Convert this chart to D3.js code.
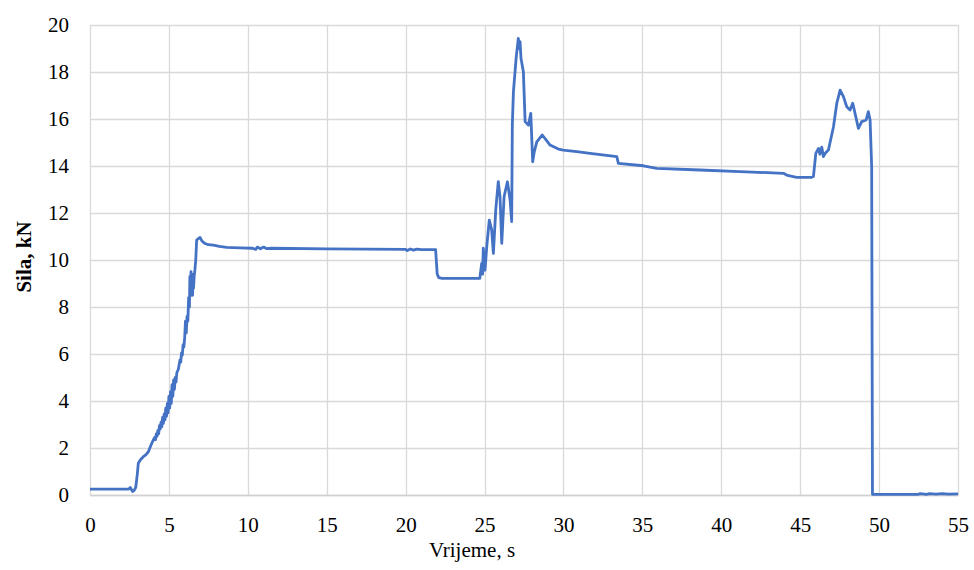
<!DOCTYPE html>
<html>
<head>
<meta charset="utf-8">
<script src="https://cdn.jsdelivr.net/npm/d3@7"></script>
<style>
  html, body { margin: 0; padding: 0; background: #fff; }
  svg { display: block; }
  text { font-family: "Liberation Serif", "Times New Roman", Times, "DejaVu Serif", serif; fill: #000; }
</style>
</head>
<body>
<svg id="chart" width="974" height="570"></svg>
<script>
// Time (s)
const time = [
  0, 2.45, 2.55, 2.7, 2.8, 2.9, 3.0, 3.06, 3.2, 3.38, 3.55, 3.7, 3.85, 4.01, 4.1, 4.15, 4.2, 4.25, 4.3, 4.35,
  4.4, 4.45, 4.5, 4.55, 4.6, 4.65, 4.7, 4.75, 4.8, 4.85, 4.9, 4.95, 5.0, 5.05, 5.1, 5.15, 5.2, 5.25, 5.3, 5.35,
  5.4, 5.45, 5.5, 5.6, 5.7, 5.75, 5.8, 5.85, 5.9, 5.95, 6.0, 6.05, 6.1, 6.15, 6.2, 6.25, 6.3, 6.33, 6.36, 6.4,
  6.43, 6.46, 6.5, 6.53, 6.56, 6.6, 6.65, 6.7, 6.76, 6.85, 6.97, 7.1, 7.29, 7.5, 7.81, 8.2, 8.66, 9.5, 10.3, 10.5,
  10.6, 10.8, 11.0, 11.2, 11.5, 15.0, 20.0, 20.1, 20.3, 20.5, 20.7, 21.0, 21.9, 22.0, 22.1, 22.3, 24.7, 24.82, 24.88, 24.92,
  25.03, 25.14, 25.3, 25.45, 25.56, 25.71, 25.87, 25.98, 26.09, 26.24, 26.45, 26.62, 26.72, 26.76, 26.83, 27.0, 27.14, 27.2, 27.25, 27.31,
  27.46, 27.57, 27.78, 27.93, 28.05, 28.15, 28.31, 28.66, 29.15, 29.68, 29.99, 30.84, 31.69, 33.38, 33.48, 35.06, 35.91, 38.66, 41.19, 43.94,
  44.2, 44.78, 45.73, 45.84, 45.99, 46.16, 46.25, 46.37, 46.47, 46.6, 46.79, 47.11, 47.32, 47.53, 47.74, 47.95, 48.16, 48.33, 48.69, 48.9,
  49.18, 49.32, 49.43, 49.53, 49.58, 52.5, 52.6, 53.0, 53.2, 53.6, 54.0, 54.4, 55.0
];
// Force (kN)
const force = [
  0.25, 0.25, 0.32, 0.15, 0.2, 0.33, 0.9, 1.35, 1.5, 1.63, 1.72, 1.84, 2.1, 2.34, 2.45, 2.35, 2.6, 2.5, 2.75, 2.6,
  2.95, 2.8, 3.1, 2.9, 3.3, 3.05, 3.45, 3.2, 3.7, 3.35, 3.9, 3.5, 4.2, 3.7, 4.4, 3.9, 4.7, 4.2, 4.9, 4.5,
  5.0, 4.8, 5.2, 5.35, 5.75, 5.65, 6.05, 5.95, 6.4, 6.3, 6.7, 7.4, 6.9, 7.6, 7.4, 8.4, 8.0, 9.3, 8.6, 9.5,
  8.5, 9.4, 8.5, 9.3, 8.8, 9.3, 9.6, 10.0, 10.85, 10.9, 10.96, 10.8, 10.7, 10.65, 10.63, 10.58, 10.54, 10.52, 10.5, 10.45,
  10.55, 10.48, 10.55, 10.48, 10.5, 10.47, 10.45, 10.4, 10.47, 10.42, 10.46, 10.44, 10.44, 9.4, 9.25, 9.22, 9.22, 9.86, 9.4, 10.5,
  9.57, 10.57, 11.7, 11.28, 10.28, 12.13, 13.33, 12.7, 10.71, 12.7, 13.33, 12.55, 11.63, 15.74, 17.16, 18.58, 19.43, 19.0, 19.29, 18.58,
  18.01, 15.89, 15.74, 16.24, 14.18, 14.6, 15.03, 15.32, 14.89, 14.72, 14.68, 14.61, 14.54, 14.4, 14.11, 14.01, 13.9, 13.83, 13.76, 13.69,
  13.6, 13.52, 13.52, 13.55, 14.54, 14.75, 14.5, 14.8, 14.4, 14.55, 14.68, 15.67, 16.67, 17.23, 16.95, 16.52, 16.38, 16.67, 15.6, 15.89,
  15.96, 16.31, 15.96, 13.97, 0.03, 0.03, 0.06, 0.03, 0.06, 0.04, 0.06, 0.04, 0.05
];
const xTicks = [0, 5, 10, 15, 20, 25, 30, 35, 40, 45, 50, 55];
const yTicks = [0, 2, 4, 6, 8, 10, 12, 14, 16, 18, 20];
const xTitle = "Vrijeme, s";
const yTitle = "Sila, kN";

const FONT = '"Liberation Serif", "Times New Roman", Times, "DejaVu Serif", serif';
const svg = d3.select("#chart");
const m = { left: 90, right: 958, top: 25, bottom: 495 };
const x = d3.scaleLinear().domain([0, 55]).range([m.left, m.right]);
const y = d3.scaleLinear().domain([0, 20]).range([m.bottom, m.top]);

// Gridlines
const grid = svg.append("g");
grid.selectAll("line.h").data(yTicks).join("line")
  .attr("x1", m.left).attr("x2", m.right)
  .attr("y1", d => Math.round(y(d)) + 0.5).attr("y2", d => Math.round(y(d)) + 0.5)
  .attr("stroke", "#d9d9d9").attr("stroke-width", 1.3);
grid.selectAll("line.v").data(xTicks).join("line")
  .attr("y1", m.top).attr("y2", m.bottom)
  .attr("x1", d => Math.round(x(d)) + 0.5).attr("x2", d => Math.round(x(d)) + 0.5)
  .attr("stroke", "#d9d9d9").attr("stroke-width", 1.3);

// Axes (labels only)
const xAxis = d3.axisBottom(x).tickValues(xTicks).tickSize(0).tickPadding(22);
const gx = svg.append("g").attr("transform", `translate(0,${m.bottom})`).call(xAxis)
  .attr("font-family", FONT);
gx.select(".domain").attr("stroke", "#d0d0d0").attr("stroke-width", 1.3);
gx.selectAll("text").style("font-size", "21px").style("font-family", FONT).attr("fill", "#000");

const yAxis = d3.axisLeft(y).tickValues(yTicks).tickSize(0).tickPadding(21);
const gy = svg.append("g").attr("transform", `translate(${m.left},0)`).call(yAxis)
  .attr("font-family", FONT);
gy.select(".domain").remove();
gy.selectAll("text").style("font-size", "21px").style("font-family", FONT).attr("fill", "#000");

// Line
const pts = time.map((t, i) => [t, force[i]]);
const line = d3.line().x(d => x(d[0])).y(d => y(d[1]));
svg.append("path").datum(pts)
  .attr("d", line)
  .attr("fill", "none")
  .attr("stroke", "#4472C4")
  .attr("stroke-width", 2.8)
  .attr("stroke-linejoin", "round");

// Titles
svg.append("text").attr("x", 472).attr("y", 557)
  .attr("text-anchor", "middle").style("font-size", "21px").style("font-family", FONT).text(xTitle);
svg.append("text").attr("transform", "translate(31,257) rotate(-90)")
  .attr("text-anchor", "middle").style("font-size", "21px").style("font-family", FONT)
  .style("font-weight", "bold").text(yTitle);
</script>
</body>
</html>
